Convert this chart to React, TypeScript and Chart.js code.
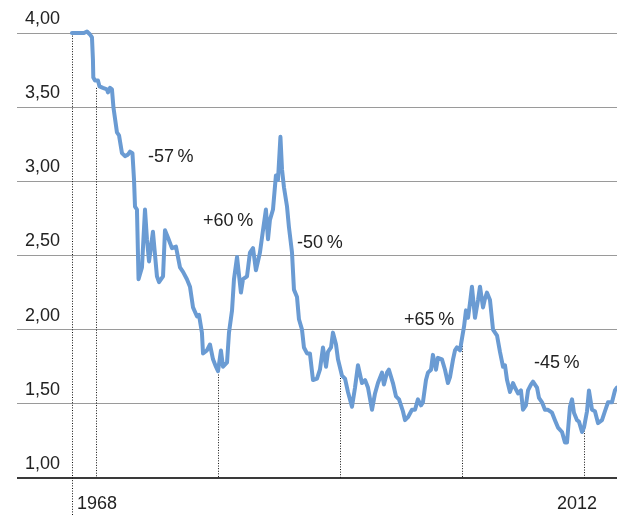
import React, { useEffect, useRef } from 'react';
import { Chart, registerables } from 'chart.js';

Chart.register(...registerables);

const years = [
  1968.00, 1968.98, 1969.23, 1969.48, 1969.64, 1969.72, 1969.75, 1969.89, 1970.13, 1970.26,
  1970.54, 1970.87, 1970.95, 1971.12, 1971.28, 1971.40, 1971.69, 1971.86, 1972.10, 1972.35,
  1972.59, 1972.76, 1972.96, 1973.09, 1973.17, 1973.33, 1973.46, 1973.74, 1973.99, 1974.15,
  1974.32, 1974.64, 1974.97, 1975.14, 1975.47, 1975.63, 1975.88, 1976.20, 1976.53, 1976.86,
  1977.11, 1977.43, 1977.68, 1977.93, 1978.25, 1978.42, 1978.66, 1978.75, 1979.07, 1979.32,
  1979.57, 1979.81, 1979.98, 1980.22, 1980.39, 1980.72, 1980.88, 1981.13, 1981.29, 1981.54,
  1981.86, 1982.03, 1982.36, 1982.60, 1982.85, 1983.09, 1983.42, 1983.67, 1983.91, 1984.08,
  1984.24, 1984.49, 1984.73, 1984.90, 1985.10, 1985.23, 1985.39, 1985.64, 1985.80, 1986.05,
  1986.21, 1986.46, 1986.62, 1986.87, 1987.03, 1987.28, 1987.52, 1987.77, 1988.10, 1988.34,
  1988.59, 1988.84, 1989.00, 1989.25, 1989.41, 1989.66, 1989.82, 1990.15, 1990.40, 1990.64,
  1990.97, 1991.22, 1991.46, 1991.79, 1992.04, 1992.28, 1992.61, 1992.86, 1993.10, 1993.43,
  1993.59, 1993.84, 1994.00, 1994.33, 1994.58, 1994.83, 1995.15, 1995.32, 1995.56, 1995.89,
  1996.14, 1996.38, 1996.63, 1996.79, 1997.04, 1997.20, 1997.45, 1997.61, 1997.86, 1998.02,
  1998.35, 1998.60, 1998.84, 1999.01, 1999.26, 1999.42, 1999.58, 1999.83, 1999.99, 2000.16,
  2000.32, 2000.49, 2000.65, 2000.81, 2001.06, 2001.31, 2001.47, 2001.72, 2001.88, 2002.04,
  2002.29, 2002.54, 2002.87, 2003.11, 2003.36, 2003.52, 2003.69, 2003.93, 2004.18, 2004.34,
  2004.59, 2004.83, 2005.00, 2005.24, 2005.41, 2005.65, 2005.82, 2006.15, 2006.31, 2006.56,
  2006.80, 2007.05, 2007.38, 2007.62, 2007.87, 2008.20, 2008.44, 2008.61, 2008.85, 2009.02,
  2009.18, 2009.43, 2009.59, 2009.84, 2010.00, 2010.25, 2010.41, 2010.66, 2010.90, 2011.15,
  2011.48, 2011.72, 2011.97, 2012.30, 2012.54, 2012.71,
];

const rates = [
  4.00, 4.00, 4.01, 3.99, 3.97, 3.82, 3.70, 3.68, 3.68, 3.64,
  3.63, 3.62, 3.60, 3.63, 3.62, 3.50, 3.33, 3.31, 3.19, 3.17,
  3.18, 3.20, 3.19, 3.01, 2.83, 2.81, 2.34, 2.42, 2.81, 2.61,
  2.46, 2.66, 2.36, 2.32, 2.36, 2.67, 2.62, 2.55, 2.56, 2.42,
  2.39, 2.34, 2.29, 2.15, 2.09, 2.10, 1.98, 1.84, 1.86, 1.90,
  1.80, 1.75, 1.72, 1.86, 1.75, 1.78, 1.98, 2.13, 2.34, 2.49,
  2.25, 2.34, 2.36, 2.52, 2.55, 2.40, 2.52, 2.67, 2.81, 2.61,
  2.74, 2.81, 3.04, 3.01, 3.30, 3.08, 2.96, 2.83, 2.69, 2.52,
  2.27, 2.22, 2.07, 2.00, 1.88, 1.84, 1.84, 1.66, 1.67, 1.73,
  1.88, 1.75, 1.85, 1.88, 1.98, 1.90, 1.80, 1.69, 1.67, 1.58,
  1.48, 1.61, 1.76, 1.64, 1.66, 1.61, 1.46, 1.57, 1.64, 1.71,
  1.63, 1.71, 1.73, 1.64, 1.55, 1.53, 1.45, 1.39, 1.41, 1.46,
  1.46, 1.53, 1.49, 1.51, 1.66, 1.71, 1.73, 1.83, 1.73, 1.81,
  1.80, 1.73, 1.64, 1.68, 1.80, 1.86, 1.88, 1.86, 1.94, 2.02,
  2.13, 2.08, 2.18, 2.29, 2.08, 2.20, 2.29, 2.15, 2.21, 2.25,
  2.20, 2.00, 1.96, 1.85, 1.75, 1.76, 1.66, 1.58, 1.64, 1.61,
  1.57, 1.59, 1.46, 1.49, 1.59, 1.63, 1.65, 1.61, 1.54, 1.51,
  1.46, 1.46, 1.44, 1.39, 1.34, 1.31, 1.24, 1.24, 1.48, 1.53,
  1.44, 1.39, 1.38, 1.31, 1.34, 1.45, 1.59, 1.46, 1.45, 1.37,
  1.39, 1.45, 1.51, 1.51, 1.59, 1.61,
];

const yTickValues = [1, 1.5, 2, 2.5, 3, 3.5, 4];
const yTickLabels = ['1,00', '1,50', '2,00', '2,50', '3,00', '3,50', '4,00'];

const xLabels = ['1968', '2012'];
const xLabelYears = [1968.41, 2007.79];

const markerYears = [1968, 1970, 1980, 1990, 2000, 2010];
const markerTops = [4.0, 3.63, 1.715, 1.674, 1.89, 1.32];

const changeLabels = ['-57\u2009%', '+60\u2009%', '-50\u2009%', '+65\u2009%', '-45\u2009%'];
const changeYears = [1974.23, 1978.75, 1986.46, 1995.24, 2005.9];
const changeValues = [3.164, 2.733, 2.582, 2.062, 1.773];

const FONT = "'Liberation Sans', Arial, Helvetica, sans-serif";
const TEXT_COLOR = '#222222';

const overlayPlugin = {
  id: 'overlay',
  beforeDatasetsDraw(chart: any) {
    const { ctx, scales } = chart;
    const x = scales.x;
    const y = scales.y;
    ctx.save();
    ctx.strokeStyle = '#111111';
    ctx.lineWidth = 1;
    ctx.setLineDash([1, 1.6]);
    markerYears.forEach((yr, i) => {
      const px = Math.round(x.getPixelForValue(yr)) + 0.5;
      const top = y.getPixelForValue(markerTops[i]);
      const bottom = i === 0 ? chart.height : y.getPixelForValue(1);
      ctx.beginPath();
      ctx.moveTo(px, top);
      ctx.lineTo(px, bottom);
      ctx.stroke();
    });
    ctx.restore();
  },
  afterDatasetsDraw(chart: any) {
    const { ctx, scales } = chart;
    const x = scales.x;
    const y = scales.y;
    ctx.save();
    ctx.fillStyle = TEXT_COLOR;
    ctx.font = `18px ${FONT}`;
    ctx.textAlign = 'left';
    ctx.textBaseline = 'middle';
    changeLabels.forEach((t, i) => {
      ctx.fillText(t, x.getPixelForValue(changeYears[i]), y.getPixelForValue(changeValues[i]));
    });
    const base = y.getPixelForValue(1);
    xLabels.forEach((t, i) => {
      ctx.fillText(t, x.getPixelForValue(xLabelYears[i]), base + 26);
    });
    ctx.restore();
  },
};

export default function App() {
  const ref = useRef<HTMLCanvasElement | null>(null);

  useEffect(() => {
    if (!ref.current) return;
    const chart = new Chart(ref.current, {
      type: 'line',
      data: {
        datasets: [
          {
            data: years.map((yr, i) => ({ x: yr, y: rates[i] })),
            borderColor: '#6a9bd3',
            borderWidth: 4,
            pointRadius: 0,
            tension: 0,
            fill: false,
            clip: false as any,
            borderJoinStyle: 'round',
            borderCapStyle: 'round',
          },
        ],
      },
      options: {
        responsive: false,
        animation: false,
        events: [],
        layout: { padding: { left: 1, right: 0, top: 33, bottom: 38 } },
        plugins: {
          legend: { display: false },
          tooltip: { enabled: false },
        },
        scales: {
          x: {
            type: 'linear',
            display: false,
            min: 1963.49,
            max: 2012.71,
          },
          y: {
            type: 'linear',
            min: 1,
            max: 4,
            afterBuildTicks: (scale: any) => {
              scale.ticks = yTickValues.map((v) => ({ value: v }));
            },
            border: { display: false },
            grid: {
              drawTicks: false,
              color: (c: any) => (c.tick && c.tick.value === 1 ? '#3a3a3a' : '#9a9a9a'),
              lineWidth: (c: any) => (c.tick && c.tick.value === 1 ? 2 : 1),
            },
            ticks: {
              mirror: true,
              padding: 8,
              labelOffset: -14,
              color: TEXT_COLOR,
              font: { family: FONT, size: 18 },
              callback: (_v: any, i: number) => yTickLabels[i],
            },
          },
        },
      },
      plugins: [overlayPlugin],
    });
    return () => chart.destroy();
  }, []);

  return (
    <div style={{ position: 'absolute', left: 0, top: 0, width: 617, height: 516, background: '#fff' }}>
      <canvas ref={ref} width={617} height={516} style={{ width: 617, height: 516, display: 'block' }} />
    </div>
  );
}
